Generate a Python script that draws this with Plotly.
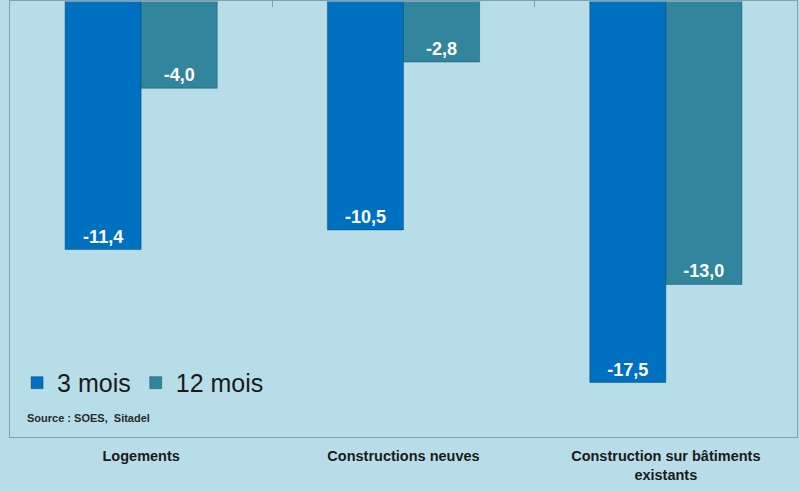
import plotly.graph_objects as go

categories = ["Logements", "Constructions neuves", "Construction sur bâtiments<br>existants"]
series_names = ["3 mois", "12 mois"]
values_3m = [-11.4, -10.5, -17.5]
values_12m = [-4.0, -2.8, -13.0]
colors = ["#0070C0", "#31859C"]
bg = "#B7DEE8"
FONT = "Arial, Liberation Sans, sans-serif"

def fmt(v):
    return "<b>" + f"{v:.1f}".replace(".", ",") + "</b>"

fig = go.Figure()
for name, vals, col in zip(series_names, [values_3m, values_12m], colors):
    fig.add_trace(go.Bar(
        x=categories, y=vals, name=name,
        marker=dict(color=col, line=dict(color="rgba(0,40,70,0.35)", width=1)),
        text=[fmt(v) for v in vals],
        textposition="inside", insidetextanchor="end",
        textfont=dict(family=FONT, size=18, color="white"),
        textangle=0,
    ))
# invisible trace on top axis for top tick marks
fig.add_trace(go.Bar(x=categories, y=[0, 0, 0], xaxis="x2", showlegend=False,
                     hoverinfo="skip", marker=dict(color="rgba(0,0,0,0)")))

fig.update_layout(
    width=800, height=492,
    paper_bgcolor=bg, plot_bgcolor=bg,
    margin=dict(l=10, r=3, t=1, b=55),
    barmode="group", bargap=0.42, bargroupgap=0,
    font=dict(family=FONT, color="#1a1a1a"),
    showlegend=True,
    legend=dict(orientation="h", x=0.009, y=0.124, xanchor="left", yanchor="middle",
                bgcolor="rgba(0,0,0,0)",
                font=dict(size=25, color="#1a1a1a"), itemwidth=30, tracegroupgap=0),
    xaxis=dict(
        showline=True, linecolor="#7FA3AE", linewidth=1, mirror=True,
        ticks="", showgrid=False, ticklabelstandoff=6,
        tickfont=dict(size=14.5, color="#1a1a1a", family=FONT, weight="bold"),
    ),
    xaxis2=dict(overlaying="x", side="top", matches="x", showticklabels=False,
                ticks="inside", tickson="boundaries", ticklen=6, tickcolor="#7FA3AE",
                showline=False, showgrid=False),
    yaxis=dict(range=[-20, 0], showticklabels=False, showgrid=False, zeroline=False,
               showline=True, linecolor="#7FA3AE", linewidth=1, mirror=True, ticks=""),
    annotations=[dict(text="<b>Source : SOES,  Sitadel</b>", x=0.019, y=0.044,
                      xref="paper", yref="paper", xanchor="left", yanchor="middle",
                      showarrow=False, font=dict(size=11, color="#2a2a2a"))],
)
fig.write_html("out.html", config={"displayModeBar": False},
               post_script="document.body.style.margin='0';")
